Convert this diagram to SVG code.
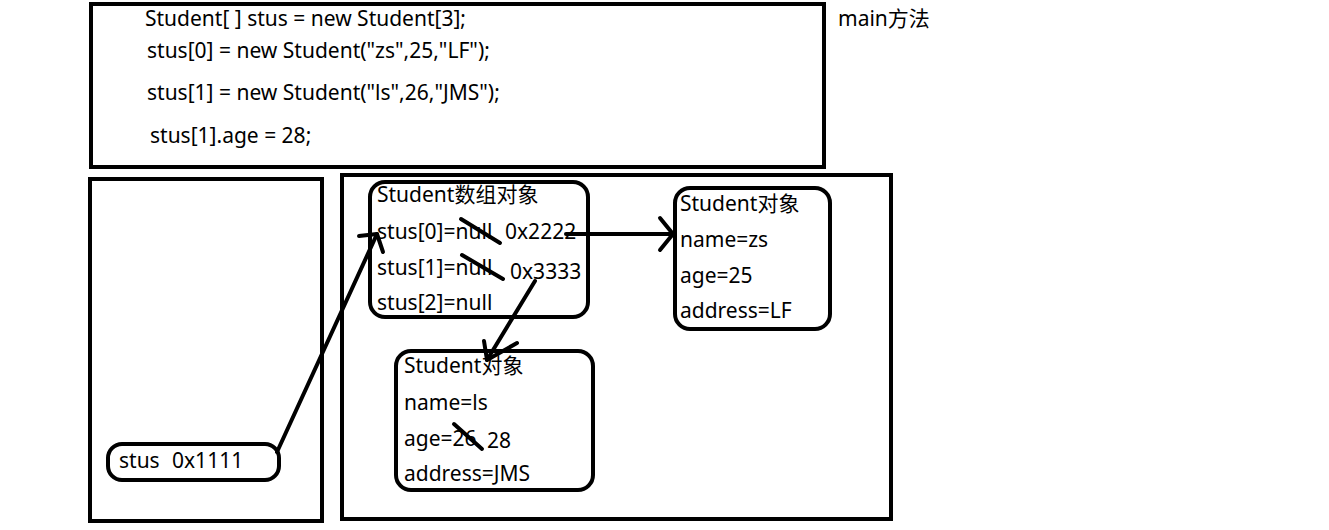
<svg xmlns="http://www.w3.org/2000/svg" width="1329" height="530" viewBox="0 0 1329 530">
<style>
text{font-family:"Noto Sans","Noto Sans CJK SC",sans-serif;font-size:21px;fill:#000}
.box{fill:none;stroke:#000;stroke-width:4}
.ln{fill:none;stroke:#000;stroke-width:4;stroke-linecap:round;stroke-linejoin:round}
</style>
<rect width="1329" height="530" fill="#fff"/>
<g id="main-code">
<rect class="box" x="91" y="4" width="733" height="163"/>
<text x="145" y="26">Student[ ] stus = new Student[3];</text>
<text x="147" y="58">stus[0] = new Student("zs",25,"LF");</text>
<text x="147" y="100">stus[1] = new Student("ls",26,"JMS");</text>
<text x="150" y="143">stus[1].age = 28;</text>
</g>
<g id="main-label"><text x="838" y="26">main方法</text></g>
<g id="stack">
<rect class="box" x="90" y="179" width="232" height="342"/>
</g>
<g id="heap">
<rect class="box" x="342" y="175" width="549" height="344"/>
</g>
<g id="stus-var">
<rect class="box" x="108" y="444" width="171" height="36" rx="14"/>
<text x="119" y="468">stus</text>
<text x="172" y="468">0x1111</text>
</g>
<g id="array-obj">
<rect class="box" x="370" y="182" width="218" height="135" rx="15"/>
<text x="377" y="202">Student数组对象</text>
<text x="377" y="239">stus[0]=null</text>
<text x="505" y="239">0x2222</text>
<text x="377" y="275">stus[1]=null</text>
<text x="510" y="279">0x3333</text>
<text x="377" y="310">stus[2]=null</text>
<line class="ln" x1="461" y1="219" x2="500" y2="243"/>
<line class="ln" x1="462" y1="255" x2="503" y2="279"/>
</g>
<g id="student-zs">
<rect class="box" x="675" y="188" width="155" height="141" rx="15"/>
<text x="680" y="211">Student对象</text>
<text x="680" y="247">name=zs</text>
<text x="680" y="283">age=25</text>
<text x="680" y="318">address=LF</text>
</g>
<g id="student-ls">
<rect class="box" x="396" y="351" width="197" height="139" rx="15"/>
<text x="404" y="373">Student对象</text>
<text x="404" y="410">name=ls</text>
<text x="404" y="446">age=26</text>
<text x="487" y="448">28</text>
<text x="404" y="481">address=JMS</text>
<line class="ln" x1="454" y1="424" x2="482" y2="449"/>
</g>
<g id="connectors">
<path class="ln" d="M277 452 L377 234"/>
<path class="ln" d="M359 236 L377 234 L383 252"/>
<path class="ln" d="M566 234 L673 234"/>
<path class="ln" d="M660 218 L673 234 L660 250"/>
<path class="ln" d="M535 281 L487 360"/>
<path class="ln" d="M484 341 L487 360 L517 343"/>
</g>
</svg>
